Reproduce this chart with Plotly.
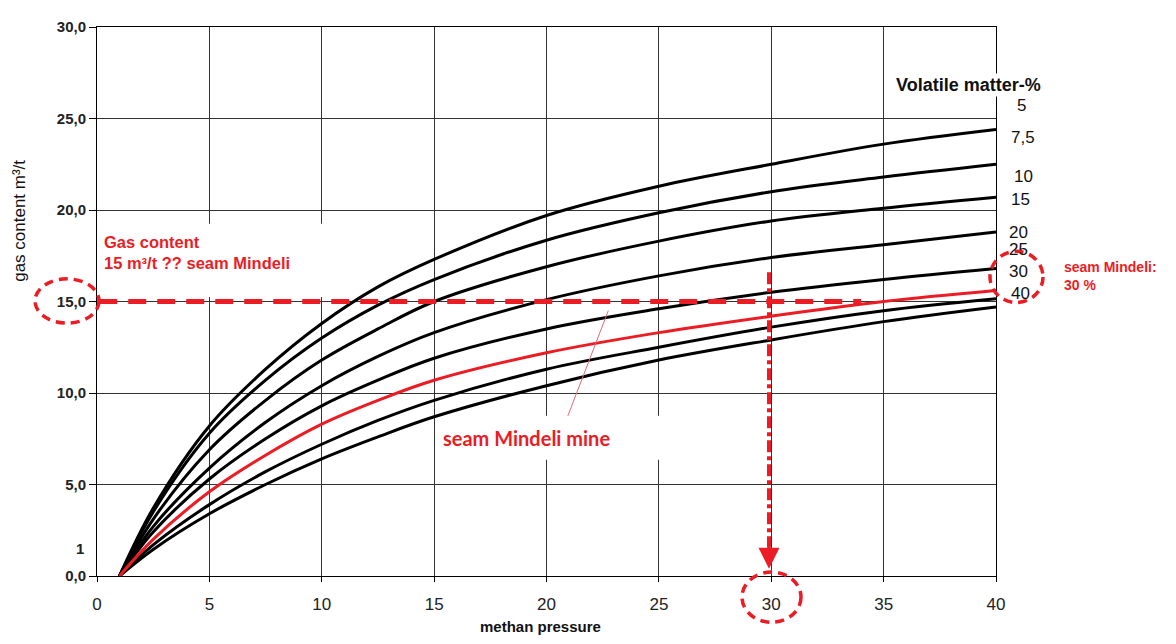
import plotly.graph_objects as go

# ---- data ----
pressure = [1, 2.5, 5, 7.5, 10, 12.5, 15, 20, 25, 30, 35, 40]
curve_1 = [0, 3.7, 8.2, 11.3, 13.8, 15.8, 17.3, 19.7, 21.3, 22.5, 23.6, 24.4]
curve_2 = [0, 3.5, 7.8, 10.7, 13.0, 14.8, 16.2, 18.35, 19.85, 21.0, 21.8, 22.5]
curve_3 = [0, 3.1, 6.9, 9.6, 11.8, 13.5, 15.0, 16.9, 18.3, 19.4, 20.1, 20.7]
curve_4 = [0, 2.7, 5.9, 8.4, 10.4, 12.0, 13.3, 15.1, 16.4, 17.4, 18.1, 18.8]
curve_5 = [0, 2.4, 5.3, 7.5, 9.3, 10.7, 11.9, 13.5, 14.6, 15.5, 16.2, 16.8]
curve_6 = [0, 1.7, 3.9, 5.7, 7.2, 8.5, 9.6, 11.3, 12.5, 13.6, 14.5, 15.15]
curve_7 = [0, 1.45, 3.4, 5.0, 6.4, 7.6, 8.7, 10.4, 11.8, 12.9, 13.9, 14.7]
mindeli = [0, 2.0, 4.6, 6.6, 8.3, 9.6, 10.7, 12.2, 13.3, 14.2, 15.0, 15.6]

black_curves = [curve_1, curve_2, curve_3, curve_4, curve_5, curve_6, curve_7]

x_ticks = [0, 5, 10, 15, 20, 25, 30, 35, 40]
x_tick_labels = ["0", "5", "10", "15", "20", "25", "30", "35", "40"]
y_ticks = [0, 5, 10, 15, 20, 25, 30]
y_tick_labels = ["0,0", "5,0", "10,0", "15,0", "20,0", "25,0", "30,0"]

vm_labels = ["5", "7,5", "10", "15", "20", "25", "30", "40"]
vm_label_py = [98, 130, 170, 193, 227, 244, 266, 289]
vm_label_px = [1022, 1023, 1023, 1020, 1019, 1019, 1019, 1020]

gas_target = 15      # m3/t
pressure_read = 30   # read-off pressure
dash_end = 34

RED = "#ec1c24"

# page geometry (body has an 8px margin)
OFF = 8
W, H = 1176 - 2 * OFF, 644 - 2 * OFF
# plot area in page pixels
L, R, T, B = 97, 996, 18, 576

def px(xp):
    return (xp - L) / (R - L)

def py(yp):
    return (B - yp) / (B - T)

fig = go.Figure()
for c in black_curves:
    fig.add_trace(go.Scatter(x=pressure, y=c, mode="lines",
                             line=dict(color="black", width=3, shape="spline", smoothing=1.0),
                             hoverinfo="skip", showlegend=False))
fig.add_trace(go.Scatter(x=pressure, y=mindeli, mode="lines",
                         line=dict(color=RED, width=3, shape="spline", smoothing=1.0),
                         hoverinfo="skip", showlegend=False))

shapes = []
# white boxes behind texts (hide gridlines, below traces)
shapes.append(dict(type="rect", xref="x", yref="y", x0=0.1, x1=10.4, y0=15.25, y1=19.25,
                   fillcolor="white", line=dict(width=0), layer="between"))
shapes.append(dict(type="rect", xref="x", yref="y", x0=15.15, x1=25.3, y0=6.35, y1=8.76,
                   fillcolor="white", line=dict(width=0), layer="between"))
# horizontal dashed line at gas content 15
shapes.append(dict(type="line", xref="x", yref="y", x0=0.1, x1=dash_end, y0=gas_target, y1=gas_target,
                   line=dict(color=RED, width=5, dash="18px,11px"), layer="above"))
# vertical dash-dot line at pressure 30
shapes.append(dict(type="line", xref="x", yref="y", x0=pressure_read - 0.1, x1=pressure_read - 0.1,
                   y0=16.6, y1=1.6,
                   line=dict(color=RED, width=4, dash="12px,4px,4px,4px"), layer="above"))
# pointer line from label to red curve
shapes.append(dict(type="line", xref="x", yref="y", x0=20.95, y0=8.75, x1=22.75, y1=14.5,
                   line=dict(color="#e06a78", width=1), layer="above"))
# dashed circles
circ = dict(color=RED, width=3.5, dash="9px,6px")
shapes.append(dict(type="circle", xref="paper", yref="paper",
                   x0=px(35), x1=px(99), y0=py(319), y1=py(274), line=circ))
shapes.append(dict(type="circle", xref="paper", yref="paper",
                   x0=px(742), x1=px(801), y0=py(623), y1=py(572), line=circ))
shapes.append(dict(type="circle", xref="paper", yref="paper",
                   x0=px(990), x1=px(1043), y0=py(298), y1=py(246), line=circ))

FONT = "Liberation Sans, Arial"
ann = []
# arrow head at bottom of vertical line
ann.append(dict(x=pressure_read - 0.1, y=0.4, ax=pressure_read - 0.1, ay=2.2, xref="x", yref="y",
                axref="x", ayref="y", showarrow=True, arrowhead=2, arrowsize=1.2,
                arrowwidth=3.5, arrowcolor=RED, text=""))
ann.append(dict(x=px(102), y=py(247), xref="paper", yref="paper", xanchor="left", yanchor="middle",
                text="<b>Gas content<br>15 m³/t ?? seam Mindeli</b>", align="left", showarrow=False,
                font=dict(family=FONT, size=16.5, color=RED)))
ann.append(dict(x=px(526), y=py(436), xref="paper", yref="paper", xanchor="center", yanchor="middle",
                text="<b>seam Mindeli mine</b>", showarrow=False,
                font=dict(family="Lato, Open Sans", size=20, color=RED)))
ann.append(dict(x=px(1062), y=py(271), xref="paper", yref="paper", xanchor="left", yanchor="middle",
                text="<b>seam Mindeli:<br>30 %</b>", align="left", showarrow=False,
                font=dict(family=FONT, size=14, color=RED)))
ann.append(dict(x=px(968), y=py(77), xref="paper", yref="paper", xanchor="center", yanchor="middle",
                text="<b>Volatile matter-%</b>", showarrow=False, bgcolor="white",
                font=dict(family=FONT, size=18, color="#111")))
for lab, xp, yp in zip(vm_labels, vm_label_px, vm_label_py):
    ann.append(dict(x=px(xp), y=py(yp), xref="paper", yref="paper", xanchor="center", yanchor="middle",
                    text=lab, showarrow=False,
                    font=dict(family=FONT, size=17, color="#111")))
ann.append(dict(x=px(86), y=py(548), xref="paper", yref="paper", xanchor="right", yanchor="middle",
                text="<b>1</b>", showarrow=False,
                font=dict(family=FONT, size=15, color="#222")))
ann.append(dict(x=px(20), y=py(215), xref="paper", yref="paper", xanchor="center", yanchor="middle",
                text="gas content m³/t", textangle=-90, showarrow=False,
                font=dict(family=FONT, size=17, color="#111")))
ann.append(dict(x=px(540), y=py(627), xref="paper", yref="paper", xanchor="center", yanchor="middle",
                text="<b>methan pressure</b>", showarrow=False,
                font=dict(family=FONT, size=15, color="#111")))

fig.update_layout(
    width=W, height=H,
    margin=dict(l=L - OFF, r=W + OFF - R, t=T - OFF, b=H + OFF - B, pad=0),
    paper_bgcolor="white", plot_bgcolor="white",
    shapes=shapes, annotations=ann,
    showlegend=False,
)
fig.update_xaxes(range=[0, 40], tickvals=x_ticks, ticktext=x_tick_labels,
                 showgrid=True, gridcolor="#333", gridwidth=1,
                 showline=True, linecolor="black", linewidth=1, mirror=True,
                 ticks="outside", ticklen=5, tickcolor="black", zeroline=False,
                 ticklabelstandoff=8,
                 tickfont=dict(family="Liberation Sans Narrow, Liberation Sans, Arial", size=17, color="#222"))
fig.update_yaxes(range=[0, 30], tickvals=y_ticks, ticktext=y_tick_labels,
                 showgrid=True, gridcolor="#333", gridwidth=1,
                 showline=True, linecolor="black", linewidth=1, mirror=True,
                 ticks="outside", ticklen=7, tickcolor="black", zeroline=False,
                 tickfont=dict(family=FONT, size=15, color="#222", weight="bold"))

fig.write_html("out.html")
